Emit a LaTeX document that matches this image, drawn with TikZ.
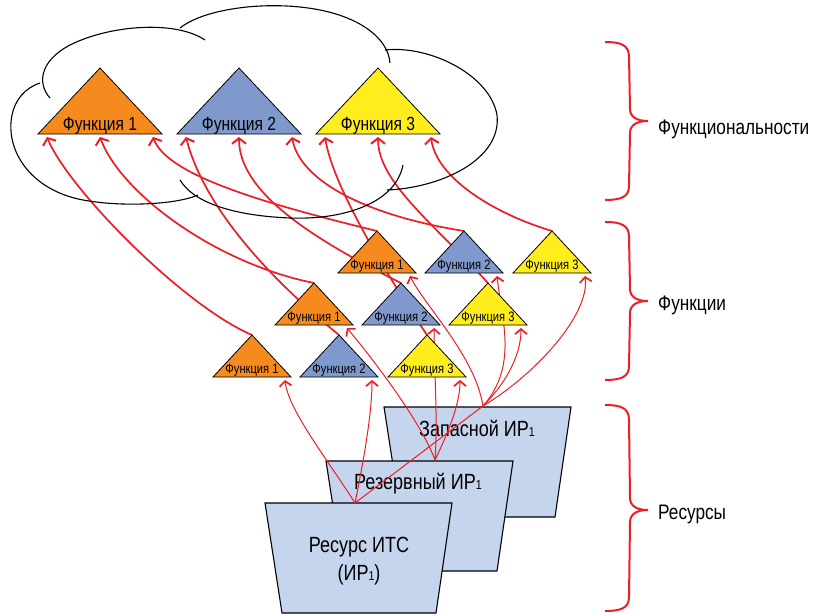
\documentclass[tikz,border=0pt]{standalone}
\usepackage{fontspec}
\setmainfont{Liberation Sans}[FakeStretch=0.82]
\usetikzlibrary{arrows.meta}

\definecolor{funcorange}{RGB}{245,138,31}
\definecolor{funcblue}{RGB}{127,153,204}
\definecolor{funcyellow}{RGB}{255,237,30}
\definecolor{resfill}{RGB}{197,213,237}
\definecolor{linkred}{RGB}{237,30,38}

\tikzset{
  tri/.style={draw=black, line width=0.8pt, line join=miter},
  res/.style={draw=black, line width=1.1pt, fill=resfill},
  cloudline/.style={draw=black, line width=1.1pt},
  uplink/.style={draw=linkred, line width=1.7pt,
    -{Straight Barb[length=5.5pt,width=14pt,line width=2pt]}},
  lowlink/.style={draw=linkred, line width=1pt,
    -{Straight Barb[length=5pt,width=12pt,line width=1.7pt]}},
  groupbrace/.style={draw=linkred, line width=2pt},
  biglabel/.style={anchor=base, inner sep=0pt, font=\fontsize{19}{21}\selectfont},
  smalllabel/.style={anchor=base, inner sep=0pt, font=\fontsize{13.6}{15}\selectfont},
  reslabel/.style={anchor=base, inner sep=0pt, font=\fontsize{22}{26}\selectfont},
  grouplabel/.style={anchor=base west, inner sep=0pt, font=\fontsize{21}{24}\selectfont},
}

% small index digit after "ИР"
\newcommand\subone{{\fontsize{13}{13}\selectfont 1}}

% large function triangle: name, apex x, fill, label
\newcommand\bigfunc[4]{%
  \filldraw[tri,fill=#3] (#1) -- (#2+62,134) -- (#2-62,134) -- cycle;
  \node[biglabel] (#1-label) at (#2,130) {#4};
}

% small function triangle: name, apex x, apex y, fill, label
\newcommand\smallfunc[5]{%
  \filldraw[tri,fill=#4] (#1) -- (#2+39,#3+42) -- (#2-39,#3+42) -- cycle;
  \node[smalllabel] (#1-label) at (#2,#3+38) {#5};
}

% resource card: top-left x, top y
\newcommand\rescard[2]{%
  \filldraw[res] (#1,#2) -- (#1+187,#2) -- (#1+171,#2+110) -- (#1+17,#2+110) -- cycle;
}

\begin{document}
\begin{tikzpicture}[x=1pt,y=-1pt]
\fill[white] (0,0) rectangle (826,615);
\useasboundingbox (0,0) rectangle (826,615);

% ---------- resources (back to front) ----------
\rescard{384}{407}
\node[reslabel] (r3-label) at (477,436) {Запасной ИР\subone};
\rescard{326}{461}
\node[reslabel] (r2-label) at (418,489) {Резервный ИР\subone};
\rescard{265}{503}
\node[reslabel] (r1-label) at (359,552) {Ресурс ИТС};
\node[reslabel] (r1-label2) at (359,580) {(ИР\subone)};

\coordinate (r1) at (355,503);
\coordinate (r2) at (435,460);
\coordinate (r3) at (483,406);

% apexes of the triangles and the points where links arrive
\coordinate (b1) at (100,68);  \coordinate (b1-a) at (47,137);  \coordinate (b1-b) at (100,137); \coordinate (b1-c) at (153,137);
\coordinate (b2) at (239,68);  \coordinate (b2-a) at (186,137); \coordinate (b2-b) at (239,137); \coordinate (b2-c) at (292,137);
\coordinate (b3) at (378,68);  \coordinate (b3-a) at (325,137); \coordinate (b3-b) at (378,137); \coordinate (b3-c) at (431,137);
\coordinate (lo1) at (252,335); \coordinate (lo1-in) at (285,380);
\coordinate (lo2) at (339,335); \coordinate (lo2-in) at (372,380);
\coordinate (lo3) at (427,335); \coordinate (lo3-in) at (460,380);
\coordinate (mid1) at (314,283); \coordinate (mid1-in) at (347,328);
\coordinate (mid2) at (401,283); \coordinate (mid2-in) at (434,328);
\coordinate (mid3) at (488,283); \coordinate (mid3-in) at (521,328);
\coordinate (up1) at (377,231); \coordinate (up1-in) at (410,276);
\coordinate (up2) at (464,231); \coordinate (up2-in) at (497,276);
\coordinate (up3) at (552,231); \coordinate (up3-in) at (585,276);

% ---------- links from resources to functions ----------
\draw[lowlink] (r1) .. controls +(-25,-40) and +(3,30) .. (lo1-in);
\draw[lowlink] (r1) .. controls +(8,-40) and +(0,35) .. (lo2-in);
\draw[lowlink] (r1) -- (r3) .. controls +(20,-20) and +(0,30) .. (mid3-in);
\draw[lowlink] (r2) .. controls +(-15,-40) and +(25,30) .. (mid1-in);
\draw[lowlink] (r2) .. controls +(3,-40) and +(0,40) .. (mid2-in);
\draw[lowlink] (r2) .. controls +(12,-25) and +(0,25) .. (lo3-in);
\draw[lowlink] (r3) .. controls +(-8,-50) and +(15,30) .. (up1-in);
\draw[lowlink] (r3) .. controls +(35,-40) and +(5,45) .. (up2-in);
\draw[lowlink] (r3) .. controls +(50,-30) and +(5,40) .. (up3-in);

% ---------- links from functions to functionalities ----------
\draw[uplink] (lo1) .. controls +(-70,-30) and +(20,50) .. (b1-a);
\draw[uplink] (mid1) .. controls +(-100,-20) and +(20,55) .. (b1-b);
\draw[uplink] (up1) .. controls +(-115,-28) and +(14,38) .. (b1-c);
\draw[uplink] (lo2) .. controls +(-110,-90) and +(10,40) .. (b2-a);
\draw[uplink] (mid2) .. controls +(-90,-45) and +(0,55) .. (b2-b);
\draw[uplink] (up2) .. controls +(-95,-15) and +(8,45) .. (b2-c);
\draw[uplink] (lo3) .. controls +(-40,-60) and +(8,50) .. (b3-a);
\draw[uplink] (mid3) .. controls +(-55,-60) and +(0,45) .. (b3-b);
\draw[uplink] (up3) .. controls +(-60,-18) and +(5,40) .. (b3-c);

% ---------- function triangles ----------
\smallfunc{lo1}{252}{335}{funcorange}{Функция 1}
\smallfunc{lo2}{339}{335}{funcblue}{Функция 2}
\smallfunc{lo3}{427}{335}{funcyellow}{Функция 3}
\smallfunc{mid1}{314}{283}{funcorange}{Функция 1}
\smallfunc{mid2}{401}{283}{funcblue}{Функция 2}
\smallfunc{mid3}{488}{283}{funcyellow}{Функция 3}
\smallfunc{up1}{377}{231}{funcorange}{Функция 1}
\smallfunc{up2}{464}{231}{funcblue}{Функция 2}
\smallfunc{up3}{552}{231}{funcyellow}{Функция 3}

\bigfunc{b1}{100}{funcorange}{Функция 1}
\bigfunc{b2}{239}{funcblue}{Функция 2}
\bigfunc{b3}{378}{funcyellow}{Функция 3}

% ---------- cloud outline, drawn as separate bumps ----------
\draw[cloudline] (50,98) .. controls (38,85) and (38,62) .. (70,45)
  .. controls (110,25) and (175,20) .. (205,40);
\draw[cloudline] (180,28) .. controls (205,8) and (270,0) .. (320,10)
  .. controls (360,18) and (388,38) .. (390,63);
\draw[cloudline] (385,50) .. controls (430,45) and (490,75) .. (497,115)
  .. controls (502,160) and (440,188) .. (387,190);
\draw[cloudline] (403,165) .. controls (395,205) and (340,220) .. (290,218)
  .. controls (240,216) and (195,205) .. (180,180);
\draw[cloudline] (198,195) .. controls (175,205) and (120,207) .. (83,200)
  .. controls (30,190) and (5,150) .. (12,115)
  .. controls (15,100) and (25,88) .. (40,83);

% ---------- braces and level names ----------
\draw[groupbrace] (605,42) .. controls (621,42) and (629,45) .. (629,57) -- (630,109)
  .. controls (630,117) and (637,121) .. (648,121)
  .. controls (637,121) and (630,125) .. (630,133) -- (629,186)
  .. controls (629,197) and (621,200) .. (605,200);
\draw[groupbrace] (605,222) .. controls (621,222) and (629,225) .. (629,237) -- (630,289)
  .. controls (630,297) and (637,301) .. (648,301)
  .. controls (637,301) and (630,305) .. (630,313) -- (629,366)
  .. controls (629,377) and (621,380) .. (605,380);
\draw[groupbrace] (605,405) .. controls (621,405) and (629,408) .. (629,420) -- (630,498)
  .. controls (630,506) and (637,510) .. (648,510)
  .. controls (637,510) and (630,514) .. (630,522) -- (629,597)
  .. controls (629,608) and (621,611) .. (605,611);

\node[grouplabel] (lvl-top) at (658,134) {Функциональности};
\node[grouplabel] (lvl-mid) at (658,310) {Функции};
\node[grouplabel] (lvl-low) at (658,519) {Ресурсы};
\end{tikzpicture}
\end{document}
